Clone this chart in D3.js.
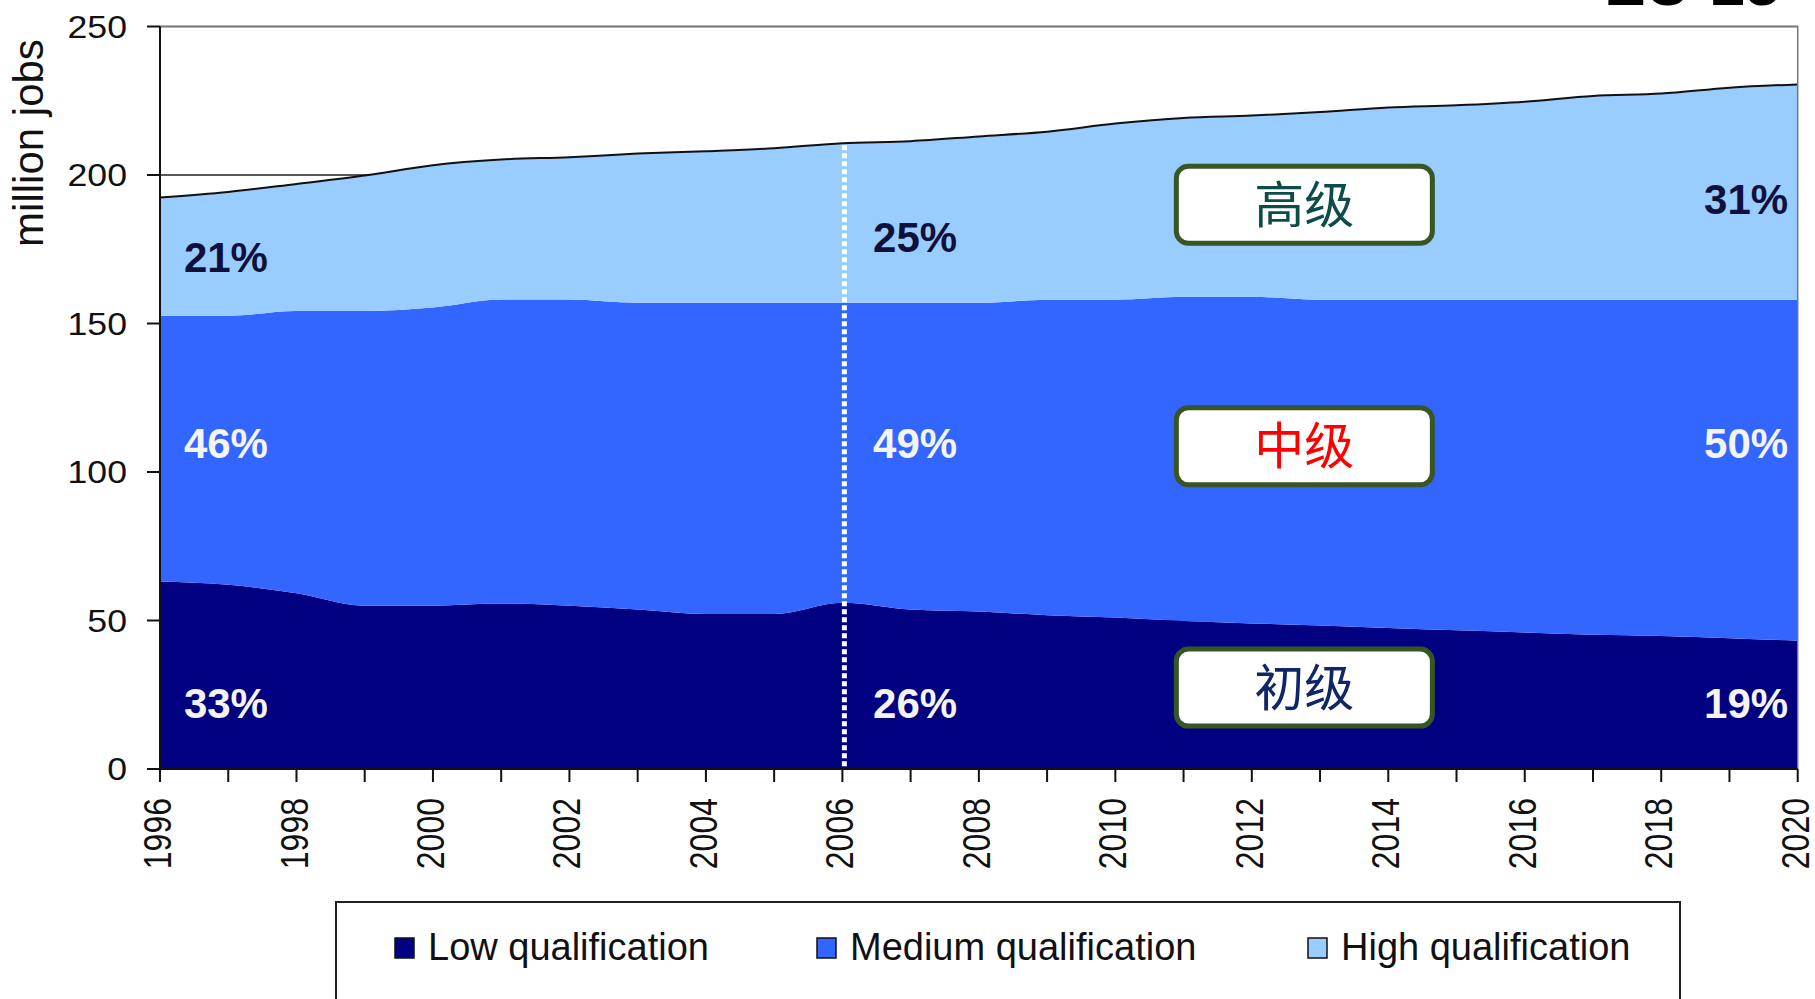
<!DOCTYPE html>
<html>
<head>
<meta charset="utf-8">
<script src="https://cdn.jsdelivr.net/npm/d3@7"></script>
<style>
  html, body { margin: 0; padding: 0; background: #fff; overflow: hidden; }
</style>
</head>
<body>
<svg id="chart"></svg>
<script>
const width = 1815;
const height = 999;

// data (million jobs)
const years = d3.range(1996, 2021);
const low    = [63.1, 62.0, 59.2, 55.0, 55.0, 55.7, 55.0, 53.7, 52.2, 52.2, 56.0, 53.7, 53.0, 51.8, 51.0, 49.8, 49.0, 48.3, 47.5, 46.7, 46.0, 45.2, 44.8, 44.0, 43.2];
const medium = [89.5, 90.6, 95.0, 99.2, 100.4, 102.4, 103.1, 103.3, 104.8, 104.8, 101.0, 103.3, 104.0, 106.2, 107.0, 109.2, 110.0, 109.7, 110.5, 111.3, 112.0, 112.8, 113.2, 114.0, 114.8];
const high   = [39.8, 41.7, 42.8, 45.6, 47.9, 47.1, 47.9, 50.2, 51.0, 52.0, 53.7, 54.4, 56.0, 56.6, 59.3, 60.2, 61.0, 63.2, 64.7, 65.5, 66.7, 68.6, 69.4, 71.4, 72.5];

const seriesNames = ['Low qualification', 'Medium qualification', 'High qualification'];
const yTicks = [0, 50, 100, 150, 200, 250];
const xLabelYears = d3.range(1996, 2021, 2);

// percent shares, [year, value] where they sit
const pctLabels = [
  {t: '33%', year: 1996.35, v: 17.2,  dark: false, anchor: 'start'},
  {t: '46%', year: 1996.35, v: 104.7, dark: false, anchor: 'start'},
  {t: '21%', year: 1996.35, v: 167.4, dark: true,  anchor: 'start'},
  {t: '26%', year: 2006.45, v: 17.2,  dark: false, anchor: 'start'},
  {t: '49%', year: 2006.45, v: 104.7, dark: false, anchor: 'start'},
  {t: '25%', year: 2006.45, v: 174.1, dark: true,  anchor: 'start'},
  {t: '19%', year: 2019.86, v: 17.2,  dark: false, anchor: 'end'},
  {t: '50%', year: 2019.86, v: 104.7, dark: false, anchor: 'end'},
  {t: '31%', year: 2019.86, v: 186.9, dark: true,  anchor: 'end'}
];

const boxLabels = [
  {t: '高级', v: 190.0, color: '#0c4d4a'},
  {t: '中级', v: 108.7, color: '#ff0000'},
  {t: '初级', v: 27.4,  color: '#0f2766'}
];

const colors = ['#000080', '#3366ff', '#99ccff'];

const x = d3.scaleLinear().domain([1996, 2020]).range([160, 1797.7]);
const y = d3.scaleLinear().domain([0, 250]).range([769, 26.5]);

const svg = d3.select('#chart')
  .attr('width', width)
  .attr('height', height)
  .style('font-family', 'Liberation Sans, Arial, sans-serif');

// gridlines
svg.append('g')
  .selectAll('line')
  .data(yTicks.filter(d => d > 0))
  .join('line')
  .attr('x1', x(1996))
  .attr('x2', x(2020))
  .attr('y1', d => y(d))
  .attr('y2', d => y(d))
  .style('stroke', '#222')
  .style('stroke-width', 1.5);

// stacked areas
const table = years.map((yr, i) => ({year: yr, low: low[i], medium: medium[i], high: high[i]}));
const stack = d3.stack().keys(['low', 'medium', 'high']);
const layers = stack(table);

const area = d3.area()
  .curve(d3.curveMonotoneX)
  .x(d => x(d.data.year))
  .y0(d => y(d[0]))
  .y1(d => y(d[1]));

svg.append('g')
  .selectAll('path')
  .data(layers)
  .join('path')
  .attr('d', area)
  .style('fill', (d, i) => colors[i]);

// outline on top of the stack
const topLine = d3.line()
  .curve(d3.curveMonotoneX)
  .x(d => x(d.data.year))
  .y(d => y(d[1]));

svg.append('path')
  .attr('d', topLine(layers[2]))
  .style('fill', 'none')
  .style('stroke', '#111')
  .style('stroke-width', 2);

// dotted line at 2006
const i2006 = years.indexOf(2006);
svg.append('line')
  .attr('x1', x(2006) + 2)
  .attr('x2', x(2006) + 2)
  .attr('y1', y(layers[2][i2006][1]) + 2)
  .attr('y2', y(0))
  .style('stroke', '#ffffff')
  .style('stroke-width', 5)
  .style('stroke-dasharray', '5,3');

// frame (top + right)
svg.append('path')
  .attr('d', `M${x(1996)},${y(250)}H${x(2020)}V${y(0)}`)
  .style('fill', 'none')
  .style('stroke', '#777')
  .style('stroke-width', 1.5);

// y axis
const yAxis = svg.append('g');
yAxis.append('line')
  .attr('x1', x(1996)).attr('x2', x(1996))
  .attr('y1', y(250)).attr('y2', y(0))
  .style('stroke', '#111').style('stroke-width', 2);
yAxis.selectAll('line.tk')
  .data(yTicks)
  .join('line')
  .attr('class', 'tk')
  .attr('x1', x(1996) - 13).attr('x2', x(1996))
  .attr('y1', d => y(d)).attr('y2', d => y(d))
  .style('stroke', '#111').style('stroke-width', 2);
yAxis.selectAll('text')
  .data(yTicks)
  .join('text')
  .attr('transform', d => `translate(127,${y(d)}) scale(1.15,1)`)
  .attr('dy', '0.36em')
  .attr('text-anchor', 'end')
  .style('font-size', '31px')
  .style('fill', '#111')
  .text(d => d);

svg.append('text')
  .attr('transform', `translate(43,143) rotate(-90)`)
  .attr('text-anchor', 'middle')
  .style('font-size', '42px')
  .style('fill', '#111')
  .text('million jobs');

// x axis
const xAxis = svg.append('g');
xAxis.append('line')
  .attr('x1', x(1996)).attr('x2', x(2020))
  .attr('y1', y(0)).attr('y2', y(0))
  .style('stroke', '#111').style('stroke-width', 2);
xAxis.selectAll('line.tk')
  .data(years)
  .join('line')
  .attr('class', 'tk')
  .attr('x1', d => x(d)).attr('x2', d => x(d))
  .attr('y1', y(0)).attr('y2', y(0) + 13)
  .style('stroke', '#111').style('stroke-width', 2);
xAxis.selectAll('text')
  .data(xLabelYears)
  .join('text')
  .attr('transform', d => `translate(${x(d) - 3},798) scale(1.22,1) rotate(-90)`)
  .attr('dy', '0.36em')
  .attr('text-anchor', 'end')
  .style('font-size', '32px')
  .style('fill', '#111')
  .text(d => d);

// percent labels
svg.append('g')
  .selectAll('text')
  .data(pctLabels)
  .join('text')
  .attr('x', d => x(d.year))
  .attr('y', d => y(d.v))
  .attr('text-anchor', d => d.anchor)
  .style('font-size', '42px')
  .style('font-weight', 'bold')
  .style('fill', d => d.dark ? '#10103a' : '#f4f4f4')
  .text(d => d.t);

// boxed Chinese labels
const boxYear = 2012.77;
const boxW = 256, boxH = 77;
const boxes = svg.append('g')
  .selectAll('g')
  .data(boxLabels)
  .join('g')
  .attr('transform', d => `translate(${x(boxYear)},${y(d.v)})`);
boxes.append('rect')
  .attr('x', -boxW / 2).attr('y', -boxH / 2)
  .attr('width', boxW).attr('height', boxH)
  .attr('rx', 12).attr('ry', 12)
  .style('fill', '#fff')
  .style('stroke', '#375623')
  .style('stroke-width', 5);
boxes.append('text')
  .attr('text-anchor', 'middle')
  .attr('dy', '0.36em')
  .style('font-family', '"Noto Sans CJK SC", sans-serif')
  .style('font-size', '50px')
  .style('fill', d => d.color)
  .text(d => d.t);

// title, mostly off the top of the picture
svg.append('text')
  .attr('x', 1780)
  .attr('y', 5)
  .attr('text-anchor', 'end')
  .style('font-size', '62px')
  .style('font-weight', 'bold')
  .style('fill', '#000')
  .text('EU-25');

// legend
svg.append('rect')
  .attr('x', 336).attr('y', 902)
  .attr('width', 1344).attr('height', 130)
  .style('fill', '#fff')
  .style('stroke', '#222')
  .style('stroke-width', 2);

const legendX = [395, 817, 1308];
const leg = svg.append('g')
  .selectAll('g')
  .data(seriesNames)
  .join('g')
  .attr('transform', (d, i) => `translate(${legendX[i]},938)`);
leg.append('rect')
  .attr('width', 19).attr('height', 20)
  .style('fill', (d, i) => colors[i])
  .style('stroke', '#111')
  .style('stroke-width', 1.5);
leg.append('text')
  .attr('x', 33)
  .attr('y', 22)
  .style('font-size', '38px')
  .style('fill', '#111')
  .text(d => d);
</script>
</body>
</html>
